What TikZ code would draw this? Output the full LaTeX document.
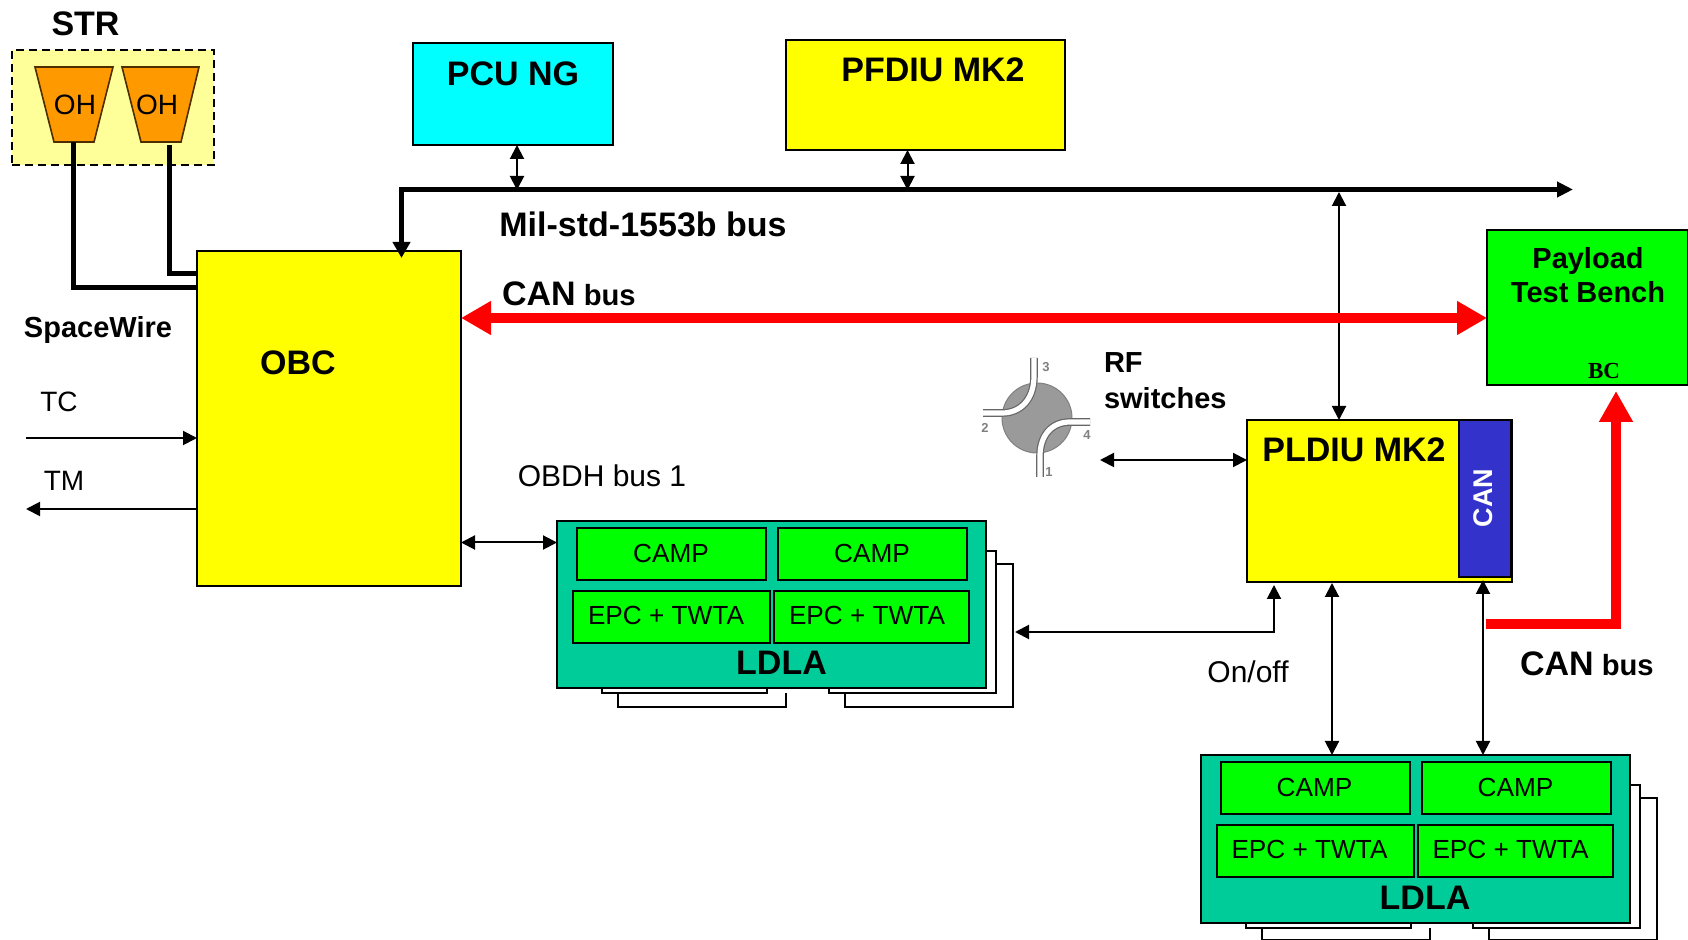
\documentclass[tikz,border=0pt]{standalone}
\usepackage{fontspec}
\setmainfont{Liberation Sans}
\newfontfamily\serifbf{Liberation Serif}
\usetikzlibrary{arrows.meta}
\definecolor{cOrange}{HTML}{FF9900}
\definecolor{cTeal}{HTML}{00CC99}
\definecolor{cBlue}{HTML}{3333CC}
\definecolor{cPale}{HTML}{FFFF99}
\definecolor{cSwitch}{HTML}{9A9A9A}
\definecolor{cYellow}{HTML}{FFFF00}
\definecolor{cCyan}{HTML}{00FFFF}
\definecolor{cGreen}{HTML}{00FF00}
\definecolor{cRed}{HTML}{FF0000}
\tikzset{
  boxn/.style={draw=black,line width=1pt,inner sep=0pt,outer sep=0pt},
  lbl/.style={inner sep=0pt,outer sep=0pt,text depth=0pt,text=black},
  big/.style={lbl,font=\fontsize{17}{20}\selectfont\bfseries},
  mid/.style={lbl,font=\fontsize{15}{18}\selectfont},
  semi/.style={lbl,font=\fontsize{14.5}{18}\selectfont\bfseries},
  inner/.style={lbl,font=\fontsize{13.1}{16}\selectfont},
  thin arrow/.style={line width=1pt,{Triangle[length=7pt,width=7pt]}-{Triangle[length=7pt,width=7pt]}},
  one arrow/.style={line width=1pt,-{Triangle[length=7pt,width=7pt]}},
  heavy/.style={line width=2.5pt,line join=miter},
  redbus/.style={draw=cRed,line width=5pt,line join=miter},
  port/.style={draw=black!60,line width=0.6pt,double=white,double distance=2.6pt},
  digit/.style={lbl,font=\fontsize{6.5}{7}\selectfont\bfseries,text=gray},
  ohshape/.style={draw=black!70!cOrange,line width=0.8pt,fill=cOrange,line join=miter},
}
\newcommand{\bx}[6]{\node[boxn,#6,minimum width={(#4-#2)*0.5pt},minimum height={(#5-#3)*0.5pt}] (#1) at ({(#2+#4)/2},{(#3+#5)/2}) {};}
\newcommand{\ldlaunit}[2]{%
  \draw[line width=1pt] (602,688) -- (602,693) -- (767,693) -- (767,688);
  \draw[line width=1pt] (829,688) -- (829,693) -- (996,693) -- (996,551) -- (986,551);
  \draw[line width=1pt] (786,693) -- (786,#2) -- (618,#2) -- (618,693);
  \draw[line width=1pt] (845,693) -- (845,#2) -- (1013,#2) -- (1013,564) -- (996,564);
  \bx{#1body}{557}{521}{986}{688}{fill=cTeal}
  \bx{#1campa}{577}{528}{766}{580}{fill=cGreen}
  \bx{#1campb}{778}{528}{967}{580}{fill=cGreen}
  \bx{#1epca}{573}{591}{770}{643}{fill=cGreen}
  \bx{#1epcb}{774}{591}{969}{643}{fill=cGreen}
  \node[inner] (#1tcampa) at (671,553) {CAMP};
  \node[inner] (#1tcampb) at (872,553) {CAMP};
  \node[inner] (#1tepca) at (666,615) {EPC + TWTA};
  \node[inner] (#1tepcb) at (867,615) {EPC + TWTA};
  \node[big] (#1name) at (781.5,663) {LDLA};
}
\begin{document}
\begin{tikzpicture}[x=0.5pt,y=-0.5pt]
\useasboundingbox (0,0) rectangle (1688,940);
\fill[white] (0,0) rectangle (1688,940);

% STR
\bx{strbox}{12}{50}{214}{165}{fill=cPale,dash pattern=on 4pt off 2.5pt}
\node[big] (strlabel) at (85.5,24) {STR};
\draw[ohshape] (35,67) -- (113,67) -- (94,142) -- (54,142) -- cycle;
\draw[ohshape] (122,67) -- (199,67) -- (181,142) -- (141,142) -- cycle;
\node[lbl,font=\fontsize{14}{16}\selectfont] (oht) at (75,104.5) {OH};
\node[lbl,font=\fontsize{14}{16}\selectfont] (ohu) at (157,104.5) {OH};

% main boxes
\bx{obc}{197}{251}{461}{586}{fill=cYellow}
\bx{pcu}{413}{43}{613}{145}{fill=cCyan}
\bx{pfdiu}{786}{40}{1065}{150}{fill=cYellow}
\bx{pldiu}{1247}{420}{1512}{582}{fill=cYellow}
\bx{canbox}{1459}{420}{1511}{577}{fill=cBlue}
\bx{bench}{1487}{230}{1688}{385}{fill=cGreen}

% LDLA units
\ldlaunit{u}{707}
\begin{scope}[shift={(643.5,234.5)}]
\ldlaunit{v}{705}
\end{scope}

% coordinates
\coordinate (busleft) at (401.5,189.5);
\coordinate (busright) at (1573,189.5);
\coordinate (obctop) at (401.5,258);
\coordinate (pcuout) at (517,145);
\coordinate (pcubus) at (517,190);
\coordinate (pfout) at (907.5,150);
\coordinate (pfbus) at (907.5,190);
\coordinate (plbus) at (1339,192);
\coordinate (pltop) at (1339,420);
\coordinate (oha1) at (73,142);
\coordinate (obca) at (197,288);
\coordinate (ohb1) at (169,145);
\coordinate (obcb) at (197,274);
\coordinate (canl) at (461,318);
\coordinate (canr) at (1487,318);
\coordinate (tcin) at (26,438);
\coordinate (tcend) at (197,438);
\coordinate (tmstart) at (197,509);
\coordinate (tmend) at (26,509);
\coordinate (obdha) at (461,542.5);
\coordinate (obdhb) at (557,542.5);
\coordinate (stacktip) at (1015,632);
\coordinate (onoff) at (1274,585);
\coordinate (plb1) at (1332,583);
\coordinate (plv1) at (1332,755);
\coordinate (plb2) at (1483,580);
\coordinate (plv2) at (1483,755);
\coordinate (rfa) at (1100,460);
\coordinate (rfb) at (1247,460);
\coordinate (cana) at (1486,624);
\coordinate (canb) at (1616,391);

% connectors
\draw[heavy] (oha1) |- (obca);
\draw[heavy] (ohb1) |- (obcb);
\draw[heavy,{Triangle[length=8pt,width=8.5pt]}-{Triangle[length=8pt,width=7.5pt]}] (obctop) -- (busleft) -- (busright);
\draw[thin arrow] (pcuout) -- (pcubus);
\draw[thin arrow] (pfout) -- (pfbus);
\draw[thin arrow] (plbus) -- (pltop);
\draw[redbus,{Triangle[length=15pt,width=16pt]}-{Triangle[length=15pt,width=16pt]}] (canl) -- (canr);
\draw[one arrow] (tcin) -- (tcend);
\draw[one arrow] (tmstart) -- (tmend);
\draw[thin arrow] (obdha) -- (obdhb);
\draw[thin arrow] (stacktip) -| (onoff);
\draw[thin arrow] (plb1) -- (plv1);
\draw[thin arrow] (plb2) -- (plv2);
\draw[thin arrow] (rfa) -- (rfb);
\draw[redbus,-{Triangle[length=15.5pt,width=16pt]}] (cana) -| (canb);

% RF switch
\node[circle,fill=cSwitch,draw=gray,line width=0.5pt,minimum size=35pt,inner sep=0pt] (rf) at (1037,418) {};
\coordinate (rfp3) at (1034,358);
\coordinate (rfp2) at (983,413);
\coordinate (rfp1) at (1040,477);
\coordinate (rfp4) at (1090,422);
\draw[port] (rfp3) -- (1034,376) .. controls (1034,400) and (1020,413) .. (1002,413) -- (rfp2);
\draw[port] (rfp1) -- (1040,456) .. controls (1040,435) and (1052,422) .. (1070,422) -- (rfp4);
\node[digit] (d3) at (1046,367) {3};
\node[digit] (d2) at (985,428) {2};
\node[digit] (d4) at (1087,435) {4};
\node[digit] (d1) at (1049,472) {1};

% labels
\node[big] (tpcu) at (513,74) {PCU NG};
\node[big] (tpf) at (933,70) {PFDIU MK2};
\node[big] (tmil) at (643,224) {Mil-std-1553b bus};
\node[big] (tobc) at (298,363) {OBC};
\node[big] (tpl) at (1354,450) {PLDIU MK2};
\node[big,anchor=west] (tcan) at (502,294) {CAN\fontsize{14.6}{18}\selectfont{} bus};
\node[big,anchor=west] (tcanb) at (1520,664) {CAN\fontsize{14.6}{18}\selectfont{} bus};
\node[semi] (tsw) at (98,327) {SpaceWire};
\node[lbl,font=\fontsize{14}{16}\selectfont] (ttc) at (59,402) {TC};
\node[lbl,font=\fontsize{14}{16}\selectfont] (ttm) at (64,481) {TM};
\node[mid] (tobdh) at (602,476) {OBDH bus 1};
\node[semi,anchor=west] (trf) at (1104,363) {RF};
\node[semi,anchor=west] (tswi) at (1104,398) {switches};
\node[mid] (toff) at (1248,672) {On/off};
\node[lbl,font=\fontsize{14.5}{17}\selectfont\bfseries] (tpay) at (1588,258) {Payload};
\node[lbl,font=\fontsize{14.5}{17}\selectfont\bfseries] (ttest) at (1588,292) {Test Bench};
\node[lbl,font=\serifbf\fontsize{11.5}{13}\selectfont\bfseries] (tbc) at (1604,371) {BC};
\node[lbl,text=white,rotate=90,font=\fontsize{13.5}{16}\selectfont\bfseries] (tcanv) at (1483,498) {CAN};
\end{tikzpicture}
\end{document}
